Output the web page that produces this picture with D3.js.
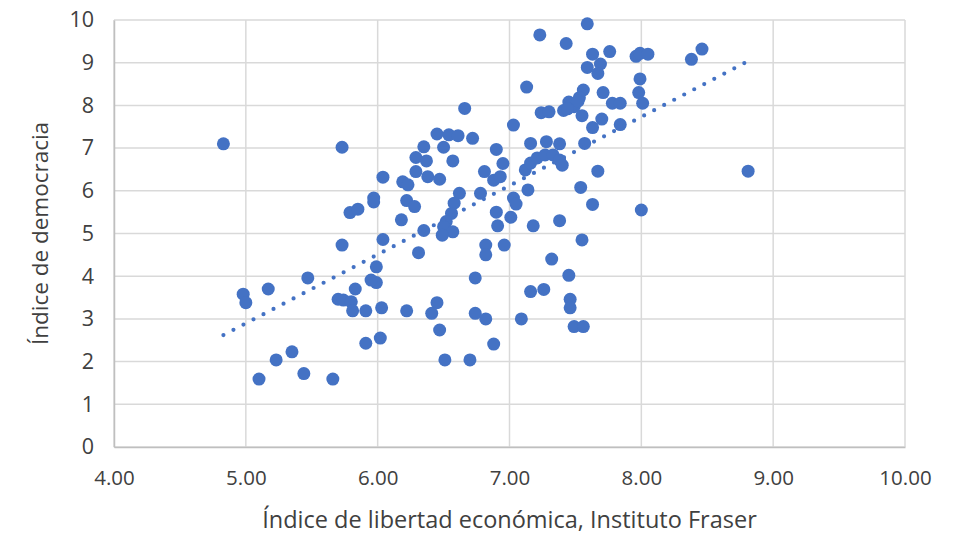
<!DOCTYPE html>
<html>
<head>
<meta charset="utf-8">
<script src="https://cdn.jsdelivr.net/npm/d3@7"></script>
<style>
  html, body { margin: 0; padding: 0; background: #fff; }
  svg { display: block; }
  text { font-family: "Open Sans", "Liberation Sans", sans-serif; fill: #404040; }
</style>
</head>
<body>
<svg id="chart" width="960" height="536"></svg>
<script>
// Data: economic freedom index (x) vs democracy index (y)
const freedomIndex = [
  4.83, 4.98, 5.00, 5.17, 5.10, 5.23, 5.35, 5.44, 5.47, 5.66,
  5.73, 5.73, 5.70, 5.74, 5.83, 5.80, 5.81, 5.91, 6.03, 5.99,
  5.95, 5.99, 6.02, 5.91, 6.04, 5.97, 5.97, 5.79, 5.85, 6.04,
  6.66, 6.45, 6.54, 6.61, 6.72, 6.35, 6.50, 6.29, 6.37, 6.57,
  6.29, 6.38, 6.47, 6.19, 6.23, 6.22, 6.28, 6.18, 6.35, 6.31,
  6.62, 6.58, 6.56, 6.52, 6.50, 6.57, 6.49, 6.90, 6.95, 6.81,
  6.88, 6.93, 6.78, 7.03, 7.05, 6.90, 7.01, 6.91, 6.82, 6.82,
  6.96, 6.74, 7.18, 7.03, 7.16, 7.24, 7.14, 7.28, 7.13, 7.30,
  7.38, 7.57, 7.63, 7.70, 7.12, 7.16, 7.21, 7.27, 7.33, 7.38,
  7.40, 7.67, 7.54, 7.63, 7.38, 8.00, 7.55, 7.32, 7.45, 7.26,
  7.46, 7.46, 7.49, 7.56, 8.81, 6.45, 6.22, 6.41, 6.74, 6.82,
  6.47, 6.88, 6.51, 6.70, 7.09, 7.16, 7.59, 7.23, 7.43, 7.63,
  7.76, 7.96, 7.99, 8.05, 8.38, 8.46, 7.59, 7.69, 7.67, 7.99,
  7.98, 8.01, 7.56, 7.53, 7.71, 7.78, 7.84, 7.45, 7.49, 7.41,
  7.55, 7.84, 7.47, 7.52, 7.44
];
const democracyIndex = [
  7.10, 3.58, 3.38, 3.70, 1.59, 2.04, 2.23, 1.72, 3.96, 1.59,
  7.02, 4.73, 3.46, 3.44, 3.70, 3.40, 3.19, 3.19, 3.26, 3.85,
  3.91, 4.22, 2.55, 2.43, 6.32, 5.83, 5.74, 5.49, 5.57, 4.86,
  7.93, 7.33, 7.31, 7.29, 7.23, 7.03, 7.02, 6.78, 6.70, 6.70,
  6.45, 6.33, 6.27, 6.21, 6.14, 5.77, 5.63, 5.32, 5.07, 4.55,
  5.94, 5.71, 5.47, 5.28, 5.16, 5.04, 4.96, 6.97, 6.64, 6.45,
  6.25, 6.33, 5.94, 5.83, 5.69, 5.50, 5.38, 5.18, 4.73, 4.50,
  4.73, 3.96, 5.18, 7.54, 7.11, 7.83, 6.02, 7.15, 8.43, 7.85,
  7.10, 7.11, 7.48, 7.68, 6.49, 6.65, 6.77, 6.84, 6.84, 6.72,
  6.60, 6.46, 6.08, 5.68, 5.30, 5.55, 4.85, 4.40, 4.02, 3.69,
  3.46, 3.26, 2.82, 2.82, 6.46, 3.38, 3.19, 3.13, 3.13, 3.00,
  2.74, 2.41, 2.04, 2.04, 3.00, 3.64, 9.91, 9.65, 9.45, 9.20,
  9.26, 9.15, 9.22, 9.20, 9.08, 9.32, 8.89, 8.97, 8.75, 8.62,
  8.30, 8.05, 8.36, 8.18, 8.30, 8.05, 8.05, 8.08, 7.97, 7.88,
  7.76, 7.55, 8.02, 8.10, 7.92
];
const xTicks = [4, 5, 6, 7, 8, 9, 10];
const yTicks = [0, 1, 2, 3, 4, 5, 6, 7, 8, 9, 10];
const xTitle = "Índice de libertad económica, Instituto Fraser";
const yTitle = "Índice de democracia";

const points = freedomIndex.map((x, i) => ({ x, y: democracyIndex[i] }));

const svg = d3.select("#chart");
const margin = { left: 114, right: 55, top: 20, bottom: 89 };
const W = 960, H = 536;
const x = d3.scaleLinear().domain([4, 10]).range([margin.left, W - margin.right]);
const y = d3.scaleLinear().domain([0, 10]).range([H - margin.bottom, margin.top]);

// Gridlines
const grid = svg.append("g");
grid.selectAll("line.h").data(yTicks).join("line")
  .attr("x1", x(4)).attr("x2", x(10))
  .attr("y1", d => y(d)).attr("y2", d => y(d))
  .attr("stroke", "#d9d9d9").attr("stroke-width", 1.5);
grid.selectAll("line.v").data(xTicks).join("line")
  .attr("y1", y(0)).attr("y2", y(10))
  .attr("x1", d => x(d)).attr("x2", d => x(d))
  .attr("stroke", "#d9d9d9").attr("stroke-width", 1.5);

// Axes (labels via d3 axis)
const xAxis = d3.axisBottom(x).tickValues(xTicks).tickFormat(d3.format(".2f")).tickSize(0).tickPadding(23);
const gx = svg.append("g").attr("transform", `translate(0,${y(0)})`).call(xAxis);
gx.select(".domain").attr("stroke", "#bfbfbf").attr("stroke-width", 1.5);
gx.selectAll("text").attr("font-size", 20.5).attr("fill", "#404040");

const yAxis = d3.axisLeft(y).tickValues(yTicks).tickSize(0).tickPadding(20);
const gy = svg.append("g").attr("transform", `translate(${x(4)},0)`).call(yAxis);
gy.select(".domain").attr("stroke", "#bfbfbf").attr("stroke-width", 1.5);
gy.selectAll("text").attr("font-size", 21.5).attr("fill", "#404040");

// Points
svg.append("g").selectAll("circle").data(points).join("circle")
  .attr("cx", d => x(d.x)).attr("cy", d => y(d.y)).attr("r", 6.5)
  .attr("fill", "#4472c4");

// Linear trend line (least squares over the data, like Excel)
const mx = d3.mean(points, d => d.x), my = d3.mean(points, d => d.y);
const slope = d3.sum(points, d => (d.x - mx) * (d.y - my)) / d3.sum(points, d => (d.x - mx) ** 2);
const icpt = my - slope * mx;
const [xmin, xmax] = d3.extent(points, d => d.x);
const trend = [xmin, xmax].map(v => ({ x: v, y: icpt + slope * v }));
svg.append("path").datum(trend)
  .attr("d", d3.line().x(d => x(d.x)).y(d => y(d.y)))
  .attr("fill", "none").attr("stroke", "#4472c4").attr("stroke-width", 4.2)
  .attr("stroke-linecap", "round").attr("stroke-dasharray", "0 11.3");

// Titles
svg.append("text").attr("x", (x(4) + x(10)) / 2).attr("y", 528)
  .attr("text-anchor", "middle").attr("font-size", 23.5)
  .text(xTitle);
svg.append("text").attr("transform", `translate(48,${(y(0) + y(10)) / 2}) rotate(-90)`)
  .attr("text-anchor", "middle").attr("font-size", 22.5)
  .text(yTitle);
</script>
</body>
</html>
